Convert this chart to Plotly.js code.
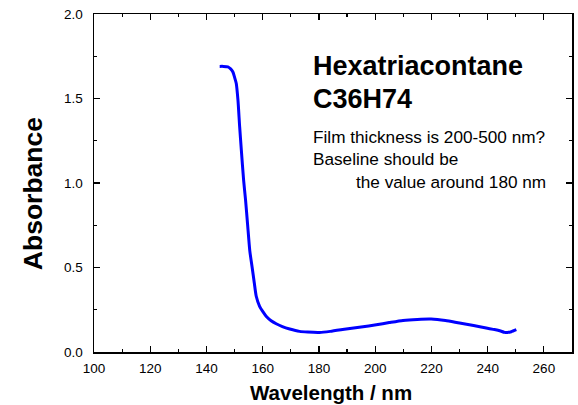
<!DOCTYPE html>
<html>
<head>
<meta charset="utf-8">
<script src="https://cdn.plot.ly/plotly-3.0.1.min.js"></script>
<style>html,body{margin:0;padding:0;background:#fff;}#chart{width:578px;height:405px;}</style>
</head>
<body>
<div id="chart"></div>
<script>
const wavelength = [144.7,146,147.6,148.6,149.4,150,150.6,151.2,151.8,152.4,153.2,153.9,154.6,155.4,156.2,157,157.7,158.9,160,161.3,163,164.8,167,169.6,173.1,176,180.2,184,189.7,195,200.4,205,209.9,215,219.9,225,230,235,239.5,242,244.3,246,247,248.4,250.2];
const absorbance = [1.690,1.690,1.687,1.675,1.657,1.625,1.589,1.49,1.333,1.195,1.018,0.90,0.76,0.60,0.506,0.41,0.33,0.27,0.24,0.21,0.185,0.167,0.150,0.136,0.122,0.118,0.116,0.122,0.136,0.148,0.161,0.174,0.187,0.193,0.195,0.186,0.171,0.157,0.142,0.134,0.126,0.116,0.115,0.12,0.132];
const xTickVals = [100,120,140,160,180,200,220,240,260];
const yTickVals = [0, 0.5, 1.0, 1.5, 2.0];
const xTitle = "Wavelength / nm";
const yTitle = "Absorbance";
const noteTitle = ["Hexatriacontane", "C36H74"];
const noteLines = ["Film thickness is 200-500 nm?", "Baseline should be", "the value around 180 nm"];

const FONT = "Arial, 'Liberation Sans', sans-serif";
const L = 94.3, R = 572.3, T = 13.7, B = 352.3;
function px(x){ return (x - L) / (R - L); }
function py(y){ return (B - y) / (B - T); }

const axisCommon = {
  showline: true, linecolor: '#000', linewidth: 1.5, mirror: 'ticks',
  ticks: 'inside', ticklen: 6, tickwidth: 1.2, tickcolor: '#000',
  showgrid: false, zeroline: false,
  tickfont: {family: FONT, size: 13.5, color: '#000'}
};

const layout = {
  width: 578, height: 405,
  margin: {l: 94, r: 6, t: 14, b: 53, pad: 0},
  paper_bgcolor: '#fff', plot_bgcolor: '#fff',
  showlegend: false,
  xaxis: Object.assign({}, axisCommon, {
    range: [100, 270], tickvals: xTickVals,
    minor: {ticks: 'inside', ticklen: 3, tickwidth: 1.2, tickcolor: '#000', dtick: 10, tick0: 100, showgrid: false},
    ticklabelstandoff: 3
  }),
  yaxis: Object.assign({}, axisCommon, {
    range: [0, 2], tickvals: yTickVals, tickformat: '.1f',
    minor: {ticks: 'inside', ticklen: 3, tickwidth: 1.2, tickcolor: '#000', dtick: 0.25, tick0: 0, showgrid: false},
    ticklabelstandoff: 7
  }),
  annotations: [
    {xref:'paper', yref:'paper', x: px(331), y: py(393), text: xTitle, showarrow:false,
     xanchor:'center', yanchor:'middle', font:{family:FONT, size:20.5, color:'#000', weight:'bold'}},
    {xref:'paper', yref:'paper', x: px(34), y: py(193.5), text: yTitle, showarrow:false, textangle:-90,
     xanchor:'center', yanchor:'middle', font:{family:FONT, size:26.5, color:'#000', weight:'bold'}},
    {xref:'paper', yref:'paper', x: px(311), y: py(66), text: noteTitle[0], showarrow:false,
     xanchor:'left', yanchor:'middle', font:{family:FONT, size:27, color:'#000', weight:'bold'}},
    {xref:'paper', yref:'paper', x: px(311), y: py(99), text: noteTitle[1], showarrow:false,
     xanchor:'left', yanchor:'middle', font:{family:FONT, size:27, color:'#000', weight:'bold'}},
    {xref:'paper', yref:'paper', x: px(311), y: py(136.5), text: noteLines[0], showarrow:false,
     xanchor:'left', yanchor:'middle', font:{family:FONT, size:17.2, color:'#000'}},
    {xref:'paper', yref:'paper', x: px(311), y: py(159), text: noteLines[1], showarrow:false,
     xanchor:'left', yanchor:'middle', font:{family:FONT, size:17.2, color:'#000'}},
    {xref:'paper', yref:'paper', x: px(548), y: py(181.5), text: noteLines[2], showarrow:false,
     xanchor:'right', yanchor:'middle', font:{family:FONT, size:17.2, color:'#000'}}
  ]
};

Plotly.newPlot('chart', [{
  x: wavelength, y: absorbance, type: 'scatter', mode: 'lines',
  line: {color: '#0000ff', width: 3, shape: 'spline', smoothing: 0.6},
  hoverinfo: 'skip'
}], layout, {staticPlot: true, displayModeBar: false});
</script>
</body>
</html>
